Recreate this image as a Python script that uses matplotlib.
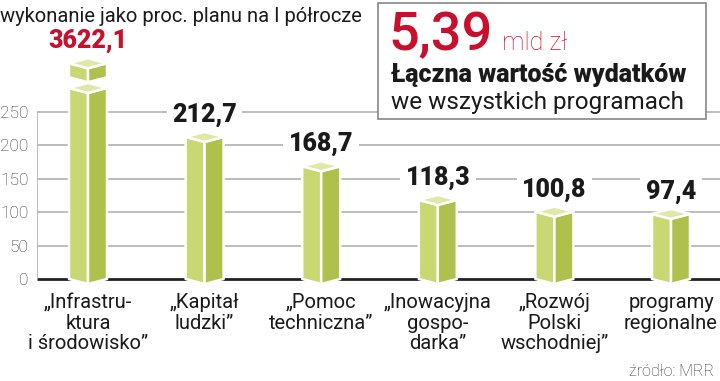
import matplotlib
matplotlib.use("Agg")
import matplotlib.pyplot as plt
from matplotlib.patches import Polygon, Rectangle

plt.rcParams['font.family'] = ['Roboto', 'DejaVu Sans']

# data
categories = ["\u201eInfrastru-\nktura\ni \u015brodowisko\u201d",
              "\u201eKapita\u0142\nludzki\u201d",
              "\u201ePomoc\ntechniczna\u201d",
              "\u201eInowacyjna\ngospo-\ndarka\u201d",
              "\u201eRozw\u00f3j\nPolski\nwschodniej\u201d",
              "programy\nregionalne"]
values = [3622.1, 212.7, 168.7, 118.3, 100.8, 97.4]
yticks = [0, 50, 100, 150, 200, 250]
title = "wykonanie jako proc. planu na I p\u00f3\u0142rocze"
total = "5,39"
source = "\u017ar\u00f3d\u0142o: MRR"

# the outlier bar is cut: body up to CUT, then a short stub above
CUT = 286
STUB = (302, 323)

LEFT = "#c9d872"
RIGHT = "#afc14c"
TOP = "#dfe8a6"
RED = "#c8102e"
GRID = "#b0b0b0"

W, H, DPI = 720, 381, 100
px_per_unit = 167 / 250.0
zero_px = 279          # y pixel of the 0 line (from top)
left_px = 37
first_px, step_px = 88, 116.6

fig = plt.figure(figsize=(W / DPI, H / DPI), dpi=DPI)
ax = fig.add_axes([left_px / W, 0, 1 - left_px / W, 1])
ax.set_ylim(-(H - zero_px) / px_per_unit, zero_px / px_per_unit)
ax.set_xlim(-(first_px - left_px) / step_px, (W - first_px) / step_px)
for s in ax.spines.values():
    s.set_visible(False)
ax.set_xticks([])
ax.set_yticks(yticks)
ax.set_yticklabels([str(t) for t in yticks], fontsize=12.5, color="#333333",
                   fontweight="light")
ax.tick_params(axis="y", length=0, pad=6)

x0, x1 = ax.get_xlim()
ax.hlines(yticks[1:], x0, x1, color=GRID, lw=1.2, zorder=1)
ax.hlines(0, x0, x1, color="#222222", lw=2, zorder=1)
ax.vlines(x0, 0, yticks[-1], color=GRID, lw=1.2, zorder=1)

bw = 38 / step_px        # bar width in data units
d = 5 / px_per_unit      # depth of the rhombus cap


def prism(ax, c, lo, hi):
    h = bw / 2
    kw = dict(closed=True, ec="white", lw=1.8, zorder=3, clip_on=False,
              joinstyle="round")
    ax.add_patch(Polygon([(c - h, lo), (c, lo - d), (c, hi - d), (c - h, hi)],
                         fc=LEFT, **kw))
    ax.add_patch(Polygon([(c, lo - d), (c + h, lo), (c + h, hi), (c, hi - d)],
                         fc=RIGHT, **kw))
    ax.add_patch(Polygon([(c - h, hi), (c, hi + d), (c + h, hi), (c, hi - d)],
                         fc=TOP, **kw))


for i, (cat, v) in enumerate(zip(categories, values)):
    if v > CUT:
        prism(ax, i, 0, CUT)
        prism(ax, i, STUB[0], STUB[1])
        top, col = STUB[1], RED
    else:
        prism(ax, i, 0, v)
        top, col = v, "#1a1a1a"
    ax.annotate(("%.1f" % v).replace(".", ","), (i, top), xytext=(0, 16),
                textcoords="offset points", ha="center", va="center",
                fontsize=18, fontweight="heavy", color=col, zorder=4,
                bbox=dict(fc="white", ec="none", pad=4))
    ax.annotate(cat, (i, 0), xytext=(0, -10), textcoords="offset points",
                ha="center", va="top", fontsize=14.5, color="#1a1a1a",
                linespacing=1.12, multialignment="center")

fig.text(0, 1 - 17 / H, title, fontsize=14.5, color="#1a1a1a", va="center")
fig.text(1 - 6 / W, 1 - 371 / H, source, fontsize=11.5, color="#333333",
         ha="right", va="center", fontweight="light")

# info box
box = Rectangle((378 / W, 1 - 119 / H), 328 / W, 116 / H,
                transform=fig.transFigure, fc="white", ec="#888888", lw=1.2,
                zorder=5, clip_on=False)
ax.add_patch(box)
ax.text(388 / W, 1 - 50 / H, total, transform=fig.transFigure,
        fontsize=39, color=RED, fontweight="medium", va="baseline",
        zorder=6)
ax.text(502 / W, 1 - 50 / H, "mld z\u0142", transform=fig.transFigure,
        fontsize=18, color=RED, fontweight="light", va="baseline", zorder=6)
ax.text(391 / W, 1 - 75 / H, "\u0141\u0105czna warto\u015b\u0107 wydatk\u00f3w",
        transform=fig.transFigure, fontsize=18, fontweight="heavy",
        color="#1a1a1a", va="center", zorder=6)
ax.text(391 / W, 1 - 102 / H, "we wszystkich programach",
        transform=fig.transFigure, fontsize=17.5, color="#1a1a1a",
        va="center", zorder=6)

fig.savefig("out.png", dpi=DPI)
